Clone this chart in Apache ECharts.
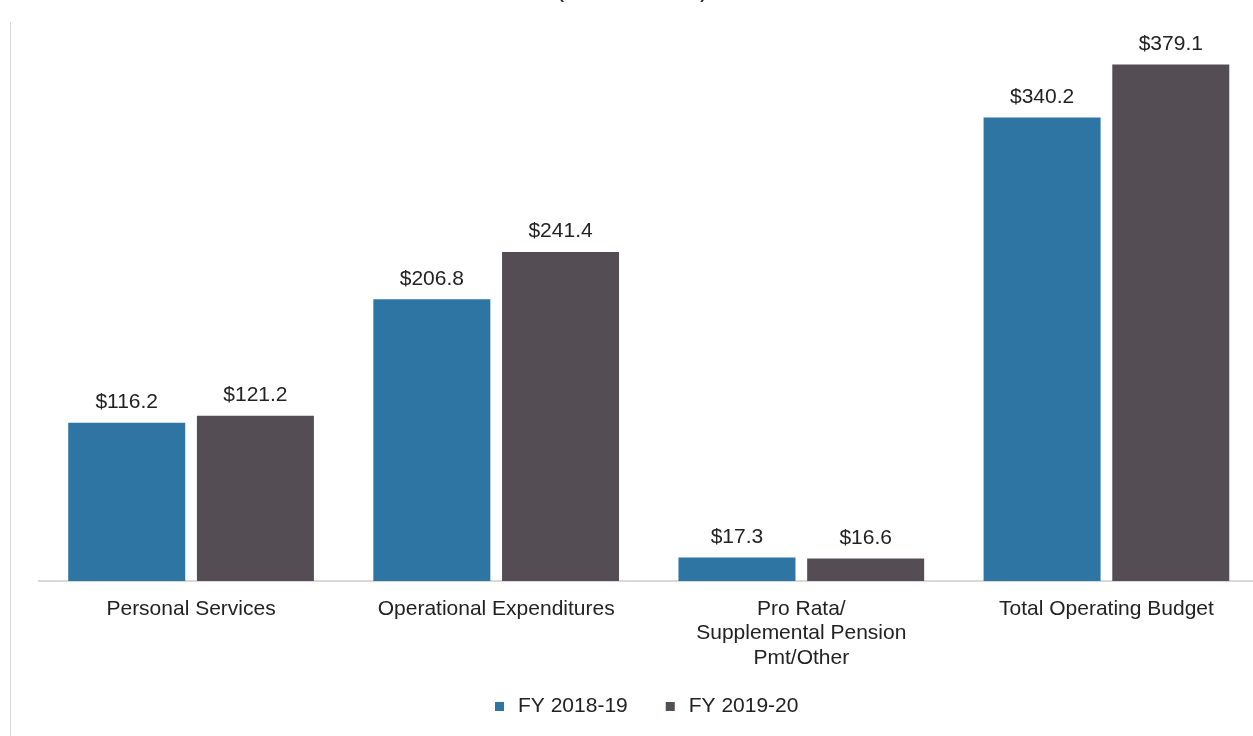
<!DOCTYPE html>
<html><head><meta charset="utf-8">
<script src="https://cdn.jsdelivr.net/npm/echarts@6/dist/echarts.min.js"></script>
<style>html,body{margin:0;padding:0;background:#fff;overflow:hidden}#c{width:1275px;height:736px}</style>
</head><body><div id="c"></div>
<script>
const categories = ['Personal Services', 'Operational Expenditures', 'Pro Rata/\nSupplemental Pension\nPmt/Other', 'Total Operating Budget'];
const seriesNames = ['FY 2018-19', 'FY 2019-20'];
const fy1819 = [116.2, 206.8, 17.3, 340.2];
const fy1920 = [121.2, 241.4, 16.6, 379.1];
const colors = ['#2E75A3', '#544D54'];

const chart = echarts.init(document.getElementById('c'));
const font = 'Liberation Sans, Arial, sans-serif';
function mk(name, data, color) {
  return {
    name: name, type: 'bar', data: data,
    barWidth: 117, barGap: '10%',
    itemStyle: { color: color },
    label: { show: true, position: 'top', distance: 10, color: '#222', fontSize: 21, fontFamily: font,
      formatter: p => '$' + p.value.toFixed(1) }
  };
}
chart.setOption({
  animation: false,
  grid: { left: 38.5, top: 36, width: 1220.5, height: 545 },
  legend: {
    left: 490, top: 691, itemWidth: 9, itemHeight: 9, itemGap: 38, icon: 'rect',
    textStyle: { fontSize: 21, color: '#222', fontFamily: font, padding: [0, 0, 0, 9] }, data: seriesNames
  },
  xAxis: {
    type: 'category', data: categories,
    axisLine: { lineStyle: { color: '#d9d9d9', width: 2 } },
    axisTick: { show: false },
    axisLabel: { fontSize: 21, color: '#222', fontFamily: font, margin: 15.5, lineHeight: 24.5, interval: 0 }
  },
  yAxis: { type: 'value', min: 0, max: 400, show: false, splitLine: { show: false } },
  series: [mk(seriesNames[0], fy1819, colors[0]), mk(seriesNames[1], fy1920, colors[1])],
  graphic: [
    { type: 'line', shape: { x1: 10.5, y1: 22, x2: 10.5, y2: 736 }, style: { stroke: '#d9d9d9', lineWidth: 1 } },
    { type: 'text', style: { x: 632, y: 3, text: '($ in Millions)', textAlign: 'center', textVerticalAlign: 'bottom', font: '26px Liberation Sans, Arial, sans-serif', fill: '#222' } }
  ]
});
</script></body></html>
